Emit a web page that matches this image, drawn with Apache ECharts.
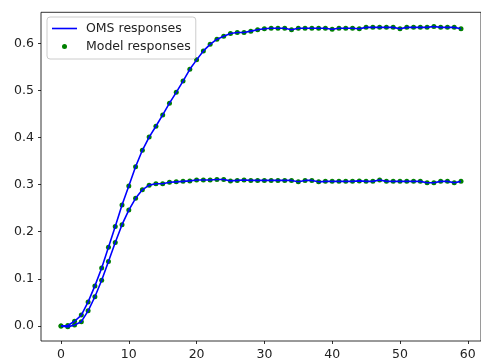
<!DOCTYPE html>
<html>
<head>
<meta charset="utf-8">
<script src="https://cdn.jsdelivr.net/npm/echarts@6/dist/echarts.min.js"></script>
<style>
  html, body { margin: 0; padding: 0; background: #fff; }
  #chart { width: 481px; height: 361px; }
</style>
</head>
<body>
<div id="chart"></div>
<script>
// Time steps 0..59
const steps = Array.from({ length: 60 }, (_, i) => i);

// Upper response curve
const upperResponse = [
  0.000, 0.001, 0.010, 0.023, 0.051, 0.085, 0.123, 0.167, 0.211, 0.257,
  0.297, 0.338, 0.373, 0.401, 0.424, 0.448, 0.473, 0.496, 0.520, 0.545,
  0.565, 0.584, 0.598, 0.609, 0.615, 0.621, 0.623, 0.623, 0.626, 0.629,
  0.631, 0.632, 0.632, 0.632, 0.629, 0.632, 0.632, 0.632, 0.632, 0.632,
  0.630, 0.632, 0.632, 0.632, 0.631, 0.634, 0.634, 0.634, 0.634, 0.634,
  0.631, 0.634, 0.634, 0.634, 0.634, 0.636, 0.634, 0.634, 0.634, 0.631
];

// Lower response curve
const lowerResponse = [
  0.000, -0.002, 0.002, 0.009, 0.032, 0.062, 0.097, 0.137, 0.177, 0.215,
  0.246, 0.271, 0.289, 0.299, 0.302, 0.302, 0.305, 0.306, 0.307, 0.308,
  0.310, 0.310, 0.310, 0.311, 0.311, 0.308, 0.309, 0.310, 0.309, 0.309,
  0.309, 0.309, 0.309, 0.309, 0.309, 0.306, 0.309, 0.309, 0.306, 0.307,
  0.307, 0.307, 0.307, 0.307, 0.308, 0.307, 0.307, 0.310, 0.307, 0.307,
  0.307, 0.307, 0.307, 0.307, 0.304, 0.304, 0.307, 0.307, 0.304, 0.307
];

// Tick positions
const xTicks = [0, 10, 20, 30, 40, 50, 60];
const yTicks = [0.0, 0.1, 0.2, 0.3, 0.4, 0.5, 0.6];

const lineName = 'OMS responses';
const dotName = 'Model responses';

const pairs = arr => steps.map((x, i) => [x, arr[i]]);

const textColor = '#222';
const fontFamily = 'DejaVu Sans';
const fontSize = 12.5;

const chart = echarts.init(document.getElementById('chart'), null, { renderer: 'canvas' });

const lineSeries = arr => ({
  name: lineName,
  type: 'line',
  data: pairs(arr),
  showSymbol: false,
  symbol: 'none',
  lineStyle: { color: '#0000ff', width: 1.6 },
  itemStyle: { color: '#0000ff' },
  z: 3,
  animation: false
});

const dotSeries = arr => ({
  name: dotName,
  type: 'scatter',
  data: pairs(arr),
  symbol: 'circle',
  symbolSize: 5,
  itemStyle: { color: '#008000', opacity: 1 },
  z: 2,
  animation: false
});

const tickStyle = { color: '#000', width: 0.8 };

chart.setOption({
  animation: false,
  backgroundColor: '#fff',
  grid: {
    left: 41,
    top: 12.3,
    width: 443.5,
    height: 330.4,
    show: true,
    borderColor: '#000',
    borderWidth: 0.8,
    backgroundColor: 'transparent'
  },
  legend: {
    left: 47,
    top: 17,
    orient: 'vertical',
    data: [
      { name: lineName, icon: 'path://M0,0 L25,0 L25,1.6 L0,1.6 Z' },
      { name: dotName, icon: 'circle' }
    ],
    itemWidth: 25,
    itemHeight: 5,
    itemGap: 5,
    padding: [5, 5, 6, 5],
    backgroundColor: 'rgba(255,255,255,0.8)',
    borderColor: '#cccccc',
    borderWidth: 1,
    borderRadius: 3,
    selectedMode: false,
    textStyle: {
      color: textColor,
      fontFamily: fontFamily,
      fontSize: fontSize,
      padding: [0, 0, 0, 4]
    }
  },
  xAxis: {
    type: 'value',
    min: -2.95,
    max: 61.95,
    splitLine: { show: false },
    axisLine: { show: false, onZero: false },
    axisTick: {
      show: true,
      customValues: xTicks,
      length: 3,
      lineStyle: tickStyle
    },
    axisLabel: {
      customValues: xTicks,
      margin: 7,
      color: textColor,
      fontFamily: fontFamily,
      fontSize: fontSize,
      formatter: v => String(Math.round(v))
    }
  },
  yAxis: {
    type: 'value',
    min: -0.032,
    max: 0.666,
    splitLine: { show: false },
    axisLine: { show: false, onZero: false },
    axisTick: {
      show: true,
      customValues: yTicks,
      length: 3,
      lineStyle: tickStyle
    },
    axisLabel: {
      customValues: yTicks,
      margin: 7,
      color: textColor,
      fontFamily: fontFamily,
      fontSize: fontSize,
      formatter: v => v.toFixed(1)
    }
  },
  series: [
    lineSeries(upperResponse),
    lineSeries(lowerResponse),
    dotSeries(upperResponse),
    dotSeries(lowerResponse)
  ]
});
</script>
</body>
</html>
